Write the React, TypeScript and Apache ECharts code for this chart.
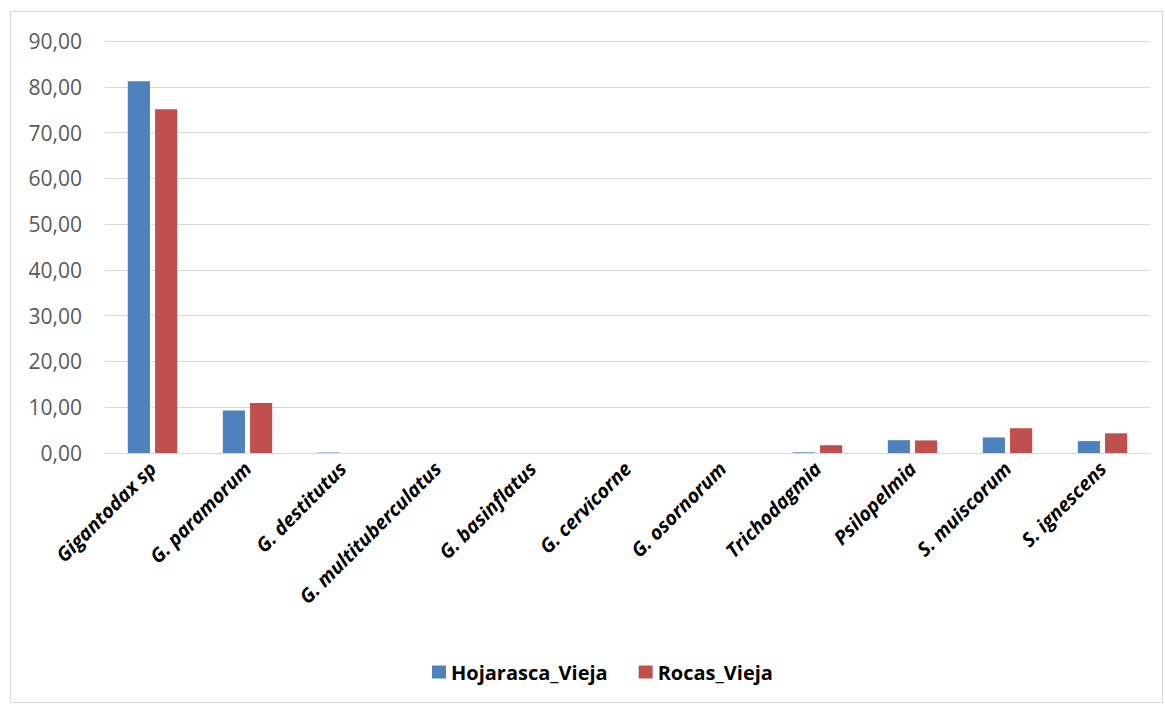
import React, { useEffect, useRef } from "react";
import * as echarts from "echarts";

const categories = [
  "Gigantodax sp",
  "G. paramorum",
  "G. destitutus",
  "G. multituberculatus",
  "G. basinflatus",
  "G. cervicorne",
  "G. osornorum",
  "Trichodagmia",
  "Psilopelmia",
  "S. muiscorum",
  "S. ignescens",
];

const hojarasca = [81.2, 9.3, 0.1, 0, 0, 0, 0, 0.15, 2.8, 3.4, 2.6];
const rocas = [75.1, 10.9, 0, 0, 0, 0, 0, 1.7, 2.75, 5.4, 4.3];

const yTicks = { min: 0, max: 90, interval: 10 };

export default function App() {
  const ref = useRef<HTMLDivElement>(null);

  useEffect(() => {
    document.body.style.margin = "0";
    if (!ref.current) return;
    const chart = echarts.init(ref.current, null, { renderer: "svg" });
    const font = "'Open Sans', 'Liberation Sans', sans-serif";
    chart.setOption({
      animation: false,
      backgroundColor: "#ffffff",
      textStyle: { fontFamily: font },
      graphic: [
        {
          type: "rect",
          shape: { x: 10.5, y: 11.5, width: 1152, height: 691 },
          style: { fill: "none", stroke: "#d9d9d9", lineWidth: 1 },
          silent: true,
        },
      ],
      grid: { left: 105, right: 15, top: 41, bottom: 251, containLabel: false },
      legend: {
        bottom: 17,
        left: 427,
        itemWidth: 14,
        itemHeight: 13,
        itemGap: 31,
        icon: "rect",
        textStyle: { fontFamily: font, fontSize: 20, fontWeight: "bold", color: "#000000" },
        data: ["Hojarasca_Vieja", "Rocas_Vieja"],
      },
      xAxis: {
        type: "category",
        data: categories,
        axisLine: { show: true, lineStyle: { color: "#d9d9d9", width: 1 } },
        axisTick: { show: false },
        axisLabel: {
          interval: 0,
          rotate: 45,
          margin: 12,
          fontFamily: font,
          fontSize: 19.5,
          fontWeight: "bold",
          fontStyle: "italic",
          color: "#000000",
        },
      },
      yAxis: {
        type: "value",
        min: yTicks.min,
        max: yTicks.max,
        interval: yTicks.interval,
        axisLine: { show: false },
        axisTick: { show: false },
        splitLine: { lineStyle: { color: "#d9d9d9", width: 1 } },
        axisLabel: {
          margin: 23,
          fontFamily: font,
          fontSize: 21,
          color: "#595959",
          formatter: (v: number) => v.toFixed(2).replace(".", ","),
        },
      },
      series: [
        {
          name: "Hojarasca_Vieja",
          type: "bar",
          data: hojarasca,
          itemStyle: { color: "#4f81bd" },
          barGap: "23%",
          barCategoryGap: "48%",
        },
        {
          name: "Rocas_Vieja",
          type: "bar",
          data: rocas,
          itemStyle: { color: "#c0504d" },
        },
      ],
    });
    return () => chart.dispose();
  }, []);

  return <div ref={ref} style={{ width: 1165, height: 704 }} />;
}
